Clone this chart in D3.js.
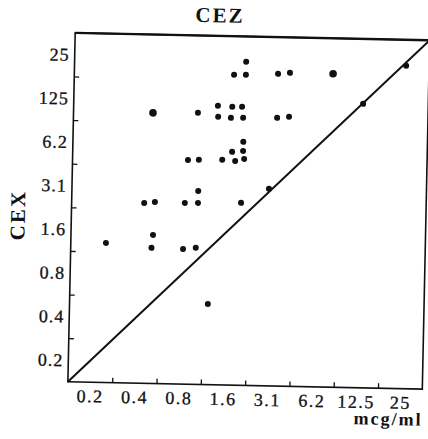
<!DOCTYPE html>
<html>
<head>
<meta charset="utf-8">
<script src="https://cdn.jsdelivr.net/npm/d3@7"></script>
<style>
  body { margin: 0; background: #fff; }
  text { font-family: "Liberation Serif", "DejaVu Serif", serif; fill: #111; }
</style>
</head>
<body>
<svg id="chart" width="428" height="439"></svg>
<script>
// tick labels (as printed on the original, "125" included)
var xLabels = ["0.2", "0.4", "0.8", "1.6", "3.1", "6.2", "12.5", "25"];
var yLabels = ["0.2", "0.4", "0.8", "1.6", "3.1", "6.2", "125", "25"];

// MIC values, CEZ on x, CEX on y, n = isolates per dot
var cez = [0.49, 0.99, 1.35, 1.36, 1.69, 1.97, 1.66, 2.01, 3.42, 4.12,
           2.07, 1.72, 2.07, 3.42, 4.12, 8.09, 25.3, 13.06, 0.86, 1.02,
           1.47, 1.80, 2.07, 1.71, 2.03, 2.03, 3.08, 2.00, 0.44, 0.52,
           0.83, 1.02, 1.02, 0.245, 0.51, 0.50, 0.82, 1.00, 1.23];
var cex = [10.42, 10.59, 11.92, 10.01, 11.79, 11.82, 9.88, 9.93, 10.04, 10.25,
           24.2, 19.6, 19.7, 20.2, 20.6, 20.6, 23.96, 12.9, 4.99, 5.02,
           5.06, 4.99, 5.17, 5.76, 5.87, 6.78, 3.24, 2.57, 2.48, 2.53,
           2.52, 2.53, 3.06, 1.30, 1.50, 1.22, 1.21, 1.24, 0.51];
var count = [2, 1, 1, 1, 1, 1, 1, 1, 1, 1,
             1, 1, 1, 1, 1, 2, 1, 1, 1, 1,
             1, 1, 1, 1, 1, 1, 1, 1, 1, 1,
             1, 1, 1, 1, 1, 1, 1, 1, 1];

var plotLeft = 71.5, plotRight = 426, plotTop = 36.5, plotBottom = 385.5;

var svg = d3.select("#chart");
// the scan is tilted a little, so the whole figure is turned
var g = svg.append("g").attr("transform", "rotate(1.2, 248, 211)");

// two-fold dilution steps, each label sits in the middle of its step
var steps = d3.range(8).map(function(i){ return 0.2 * Math.pow(2, i); });
var domain = [0.2 / Math.SQRT2, steps[7] * Math.SQRT2];
var edges = steps.slice(0, 7).map(function(d){ return d * Math.SQRT2; });

var x = d3.scaleLog().base(2).domain(domain).range([plotLeft, plotRight]);
var y = d3.scaleLog().base(2).domain(domain).range([plotBottom, plotTop]);

// tick marks
g.append("g")
  .attr("transform", "translate(0," + plotBottom + ")")
  .call(d3.axisBottom(x).tickValues(edges).tickSize(-5).tickFormat(""))
  .call(function(a){ a.select(".domain").remove(); })
  .selectAll("line").attr("stroke", "#111").attr("stroke-width", 1.3);

g.append("g")
  .attr("transform", "translate(" + plotLeft + ",0)")
  .call(d3.axisLeft(y).tickValues(edges).tickSize(-5).tickFormat(""))
  .call(function(a){ a.select(".domain").remove(); })
  .selectAll("line").attr("stroke", "#111").attr("stroke-width", 1.3);

// tick labels
g.append("g")
  .attr("transform", "translate(0," + plotBottom + ")")
  .call(d3.axisBottom(x).tickValues(steps).tickSize(0).tickPadding(0)
          .tickFormat(function(d, i){ return xLabels[i]; }))
  .call(function(a){ a.select(".domain").remove(); })
  .selectAll("text")
    .attr("y", 20).attr("dy", null)
    .style("font-size", "18px").style("letter-spacing", "1.5px")
    .style("font-family", "'Liberation Serif', serif")
    .attr("fill", "#111").attr("stroke", "#111").attr("stroke-width", 0.3);

g.append("g")
  .attr("transform", "translate(" + plotLeft + ",0)")
  .call(d3.axisLeft(y).tickValues(steps).tickSize(0).tickPadding(5)
          .tickFormat(function(d, i){ return yLabels[i]; }))
  .call(function(a){ a.select(".domain").remove(); })
  .selectAll("text")
    .style("font-size", "18px").style("letter-spacing", "1px")
    .style("font-family", "'Liberation Serif', serif")
    .attr("fill", "#111").attr("stroke", "#111").attr("stroke-width", 0.3);

// frame
g.append("rect")
  .attr("x", plotLeft).attr("y", plotTop)
  .attr("width", plotRight - plotLeft).attr("height", plotBottom - plotTop)
  .attr("fill", "none").attr("stroke", "#111").attr("stroke-width", 1.6);
g.append("line")
  .attr("x1", plotLeft).attr("x2", plotRight).attr("y1", plotTop).attr("y2", plotTop)
  .attr("stroke", "#111").attr("stroke-width", 2.4);

// line of identity
g.append("path")
  .datum(domain)
  .attr("d", d3.line().x(function(d){ return x(d); }).y(function(d){ return y(d); }))
  .attr("stroke", "#111").attr("stroke-width", 2).attr("fill", "none");

// isolates
g.selectAll("circle.pt")
  .data(d3.range(cez.length))
  .enter().append("circle")
  .attr("class", "pt")
  .attr("cx", function(i){ return x(cez[i]); })
  .attr("cy", function(i){ return y(cex[i]); })
  .attr("r", function(i){ return count[i] > 1 ? 3.8 : 3; })
  .attr("fill", "#111");

// titles
g.append("text")
  .attr("x", 216).attr("y", 23)
  .attr("text-anchor", "middle")
  .style("font-size", "21px").style("font-weight", "bold").style("letter-spacing", "2px")
  .text("CEZ");

g.append("text")
  .attr("transform", "translate(25,220) rotate(-90)")
  .attr("text-anchor", "middle")
  .style("font-size", "21px").style("font-weight", "bold").style("letter-spacing", "2px")
  .text("CEX");

g.append("text")
  .attr("x", 427).attr("y", 422)
  .attr("text-anchor", "end")
  .style("font-size", "18px").style("font-weight", "bold").style("letter-spacing", "2px")
  .text("mcg/ml");
</script>
</body>
</html>
